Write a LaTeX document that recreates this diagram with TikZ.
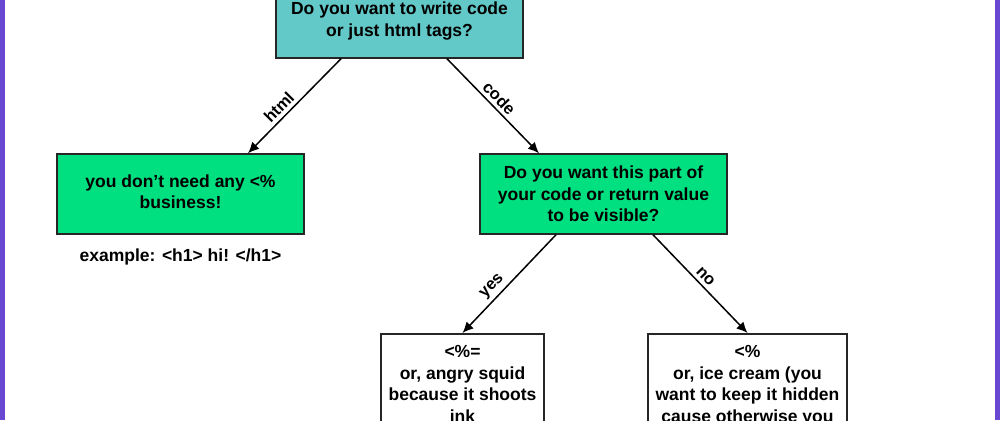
\documentclass[tikz,border=0pt]{standalone}
\usepackage{fontspec}
\setmainfont{Liberation Sans}
\usetikzlibrary{arrows.meta,positioning}
\definecolor{qteal}{RGB}{99,200,200}
\definecolor{qgreen}{RGB}{0,224,128}
\definecolor{edgepurple}{RGB}{104,72,208}

\begin{document}
\begin{tikzpicture}[x=1pt,y=-1pt,>={Latex[length=11pt,width=10pt]},
  font=\fontsize{17.5}{21.5}\selectfont\bfseries,
  box/.style={draw=black!85,line width=1.5pt,align=center,inner sep=0pt},
  lbl/.style={font=\fontsize{16.5}{18}\selectfont\bfseries,sloped,above},
  link/.style={->,line width=1.5pt}]
  \clip (0,0) rectangle (1000,420);
  \fill[white] (0,0) rectangle (1000,420);
  \fill[edgepurple] (0,0) rectangle (5,420);
  \fill[edgepurple] (995,0) rectangle (1000,420);

  % top question
  \node[box,fill=qteal,minimum width=247,minimum height=74] (top) at (399.5,21)
    {Do you want to write code\\or just html tags?};

  % second row
  \node[box,fill=qgreen,minimum width=247,minimum height=80,text depth=5pt] (html) at (180.5,194)
    {you don’t need any <\%\\[-1pt]business!};
  \node (ex) [below=11pt of html] {example: <h1> hi! </h1>};
  \node[box,fill=qgreen,minimum width=247,minimum height=80] (vis) at (603.5,194)
    {Do you want this part of\\your code or return value\\to be visible?};

  % third row
  \node[box,fill=white,anchor=north,minimum width=163,inner ysep=12pt] (yes) at (462.5,333)
    {<\%=\\or, angry squid\\because it shoots\\ink};
  \node[box,fill=white,anchor=north,minimum width=199,inner ysep=12pt] (no) at (747.5,333)
    {<\%\\or, ice cream (you\\want to keep it hidden\\cause otherwise you};

  % arrows
  \draw[link] ([xshift=-58.5pt]top.south) -- node[lbl,pos=.59] {html} ([xshift=67.5pt]html.north);
  \draw[link] ([xshift=47.5pt]top.south) -- node[lbl,pos=.49] {code} ([xshift=-64.5pt]vis.north);
  \draw[link] ([xshift=-47.5pt]vis.south) -- node[lbl,pos=.6] {yes} (yes.north);
  \draw[link] ([xshift=49.5pt]vis.south) -- node[lbl,pos=.49] {no} (no.north);
\end{tikzpicture}
\end{document}
